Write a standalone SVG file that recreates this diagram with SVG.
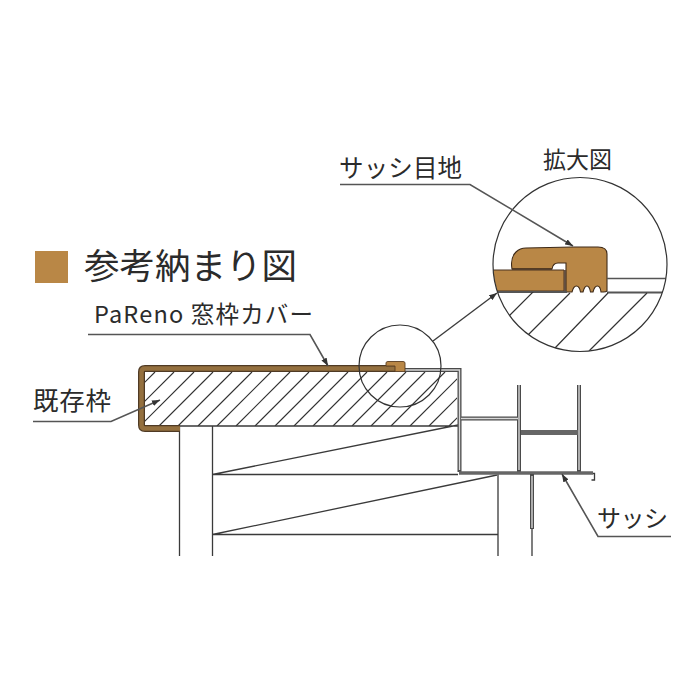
<svg xmlns="http://www.w3.org/2000/svg" width="700" height="700" viewBox="0 0 700 700">
<style>
text{font-family:"Noto Sans CJK JP","Noto Sans",sans-serif;fill:#2b2b2b}
.l{fill:none;stroke:#3a3a3a;stroke-width:1.3}
.g{fill:none;stroke:#555;stroke-width:1.6}
.h{fill:none;stroke:#333;stroke-width:1.2}
.so{fill:none;stroke:#4a4a4a;stroke-width:4}
.si{fill:none;stroke:#d8d8d8;stroke-width:1.400}
.sb{fill:none;stroke:#666;stroke-width:3.400}
</style>
<defs>
<marker id="a" viewBox="0 0 8 6" refX="8" refY="3" markerWidth="8" markerHeight="6" markerUnits="userSpaceOnUse" orient="auto"><path d="M0 0L8 3L0 6z" fill="#333"/></marker>
<clipPath id="m"><rect x="145" y="372" width="312" height="54"/></clipPath>
<clipPath id="c"><rect x="493" y="292" width="174" height="62"/></clipPath>
<clipPath id="cc"><circle cx="580" cy="264.500" r="87"/></clipPath>
</defs>
<rect x="35" y="251" width="33" height="32" fill="#b98746"/>
<text x="84" y="279" font-size="35.500">参考納まり図</text>
<text x="94" y="323" font-size="23.500" textLength="219">PaReno 窓枠カバー</text>
<text x="33" y="410" font-size="25.500" textLength="78">既存枠</text>
<text x="339" y="177" font-size="24.500" textLength="123">サッシ目地</text>
<text x="543" y="168" font-size="23" textLength="69">拡大図</text>
<text x="597" y="527" font-size="24" textLength="71">サッシ</text>

<g id="hatch" clip-path="url(#m)"><path class="h" d="M155 372l-54 54M174 372l-54 54M194 372l-54 54M213 372l-54 54M232 372l-54 54M252 372l-54 54M271 372l-54 54M290 372l-54 54M309 372l-54 54M329 372l-54 54M348 372l-54 54M367 372l-54 54M387 372l-54 54M406 372l-54 54M425 372l-54 54M445 372l-54 54M464 372l-54 54M483 372l-54 54M503 372l-54 54"/></g>

<g id="structure">
<path class="l" d="M145 426H458M179.500 426V556M212.500 426V556M212.500 474.500L458 425M212.500 474.500H458M212.500 534.500L497 475M212.500 534.500H498M498 473V556"/>
</g>

<g id="sash">
<path class="so" d="M405 370H459.500V472M519 385V472M579 385V472"/>
<path class="si" d="M405 370H459.500V470M519 385V470M579 385V470"/>
<path class="so" d="M461 418.500H518"/>
<path class="si" d="M461 418.500H518"/>
<path class="sb" d="M459 473H593"/>
<path class="sb" style="stroke-width:5" d="M521 432.500H578"/>
<path class="l" d="M593 473.500H594.500V480H591.500"/>
<path class="so" d="M532 474V529"/>
<path class="si" d="M532 476V528"/>
<path class="l" d="M532 529V556"/>
</g>

<g id="cover">
<path d="M180 428.500H145Q141.500 428.500 141.500 425V372Q141.500 368.500 145 368.500H395" fill="none" stroke="#4f3a24" stroke-width="7"/>
<path d="M180 428.500H145Q141.500 428.500 141.500 425V372Q141.500 368.500 145 368.500H395" fill="none" stroke="#94703f" stroke-width="4.500"/>
<path d="M386 366V363Q386 361.500 388 361.500H403Q405 361.500 405 363V371.500H395V366Z" fill="#b98746" stroke="#5a3d20" stroke-width="0.900"/>
</g>

<g id="detail-circle" fill="none" stroke="#333" stroke-width="1.200"><circle cx="400" cy="366" r="41"/></g>

<g id="detail">
<g clip-path="url(#cc)">
<path d="M492 270H564V291H492Z" fill="#b98746" stroke="#4a3320" stroke-width="1"/>
<path d="M512 269Q510 258 516 252Q520 248 526 248L573 247L598 247Q607 247 607 254V291Q606 292 603.500 292H601C600 284 595 284 593 292H590.500C589 284 585 284 583 292H580.500C579 284 574 284 572 292H566V270V263H558Q553 263 552 269Z" fill="#b98746" stroke="#3e2a18" stroke-width="1.100"/>
<path d="M512 269H552M565 270V291" fill="none" stroke="#4a3320" stroke-width="1.400"/>
<path d="M607 278.500H668" fill="none" stroke="#555" stroke-width="1.300"/>
<path d="M492 292H567M607 292.500H668" fill="none" stroke="#555" stroke-width="1.800"/>
<g clip-path="url(#c)">
<path class="h" d="M534 291L509 316M570 293L528 335M608 293L555 348M647 293L589 351"/>
</g>
</g>
<circle cx="580" cy="264.500" r="87" fill="none" stroke="#333" stroke-width="1.200"/>
</g>

<g id="connectors">
<path class="g" d="M33 421.500H111L160 400" marker-end="url(#a)"/>
<path class="g" d="M88 334.500H310L328 366" marker-end="url(#a)"/>
<path class="g" d="M340 184.500H470L573 246" marker-end="url(#a)"/>
<path class="g" d="M671 536.500H598L562 474" marker-end="url(#a)"/>
<path class="l" d="M433 341L497 293" marker-end="url(#a)"/>
</g>
</svg>
